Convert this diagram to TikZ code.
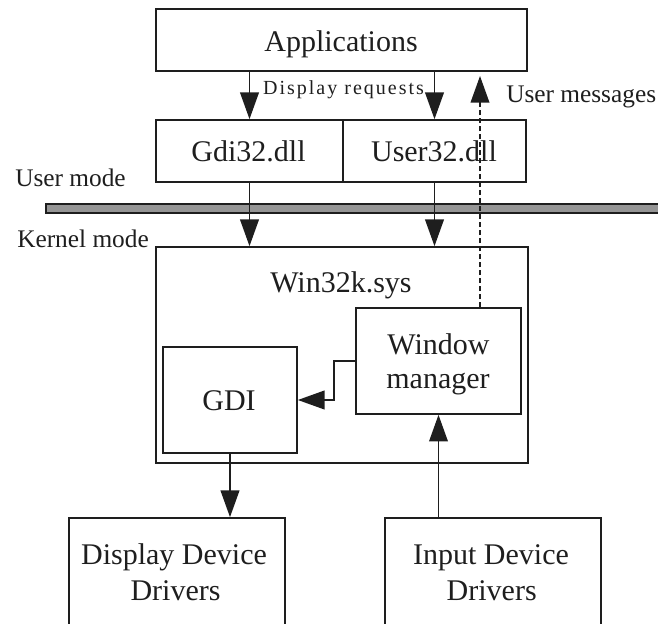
\documentclass[tikz,border=0pt]{standalone}
\usepackage{fontspec}
\setmainfont{Liberation Serif}
\usetikzlibrary{arrows.meta}
\definecolor{ink}{HTML}{1E1E1E}
\definecolor{barfill}{HTML}{959595}
\begin{document}
\begin{tikzpicture}[x=0.75pt,y=-0.75pt,
  box/.style={draw=ink, line width=1.25pt, rectangle, inner sep=0pt},
  big/.style={font=\fontsize{22.5}{26.5}\selectfont, text=ink, inner sep=0pt, anchor=base},
  lab/.style={font=\fontsize{19}{22}\selectfont, text=ink, inner sep=0pt, anchor=base west},
  arr/.style={draw=ink, line width=1.25pt, -{Triangle[length=20pt,width=14pt]}},
  msgarr/.style={arr, dash pattern=on 3.5pt off 2.5pt}]
\useasboundingbox (0,0) rectangle (658,624);

% user-mode components
\node[box, minimum width=278.25pt, minimum height=46.5pt] (apps) at (341.5,40) {};
\node[big] (appstext) at (341,52) {Applications};
\node[box, minimum width=140.25pt, minimum height=46.5pt] (gdi32) at (249.5,151) {};
\node[big] (gdi32text) at (248.5,161.7) {Gdi32.dll};
\node[box, minimum width=137.25pt, minimum height=46.5pt] (user32) at (434.5,151) {};
\node[big] (user32text) at (434,161.7) {User32.dll};

% user / kernel boundary
\node[draw=ink, fill=barfill, line width=0.9pt, inner sep=0pt,
      minimum width=490.5pt, minimum height=6.75pt] (kbar) at (373,208.5) {};
\node[lab] (umode) at (15,187) {User mode};
\node[lab] (kmode) at (17,248) {Kernel mode};

% kernel-mode driver
\node[box, minimum width=279pt, minimum height=162pt] (w32) at (342,355) {};
\node[big] (w32text) at (341,293) {Win32k.sys};
\node[box, minimum width=100.5pt, minimum height=79.5pt] (gdi) at (230,400) {};
\node[big] (gditext) at (229,410.7) {GDI};
\node[box, minimum width=123.75pt, minimum height=79.5pt] (wm) at (438.5,361) {};
\node[big] (wmtexta) at (438.5,355) {Window};
\node[big] (wmtextb) at (438,389) {manager};

% device drivers
\node[box, minimum width=162pt, minimum height=99pt] (disp) at (177,584) {};
\node[big] (disptexta) at (174,564) {Display Device};
\node[big] (disptextb) at (175.5,600.7) {Drivers};
\node[box, minimum width=162pt, minimum height=99pt] (inp) at (493,584) {};
\node[big] (inptexta) at (491,564) {Input Device};
\node[big] (inptextb) at (491.7,600.7) {Drivers};

% labels on the connectors
\node[font=\fontsize{15}{18}\selectfont\addfontfeature{LetterSpace=10}, text=ink,
      inner sep=0pt, anchor=base] (dreq) at (343.5,95) {Display requests};
\node[lab] (umsg) at (506,102.3) {User messages};

% connectors
\draw[arr] (gdi32.north |- apps.south) -- (gdi32.north);
\draw[arr] (user32.north |- apps.south) -- (user32.north);
\draw[arr] (gdi32.south) -- (gdi32.south |- w32.north);
\draw[arr] (user32.south) -- (user32.south |- w32.north);
\coordinate (msgtip) at (480,76);
\draw[msgarr] (msgtip |- wm.north) -- (msgtip);
\draw[arr] (wm.west) -- ++(-21,0) |- (gdi.east);
\draw[arr] (gdi.south) -- (gdi.south |- disp.north);
\draw[arr] (inp.north -| wm.south) -- (wm.south);
\end{tikzpicture}
\end{document}
